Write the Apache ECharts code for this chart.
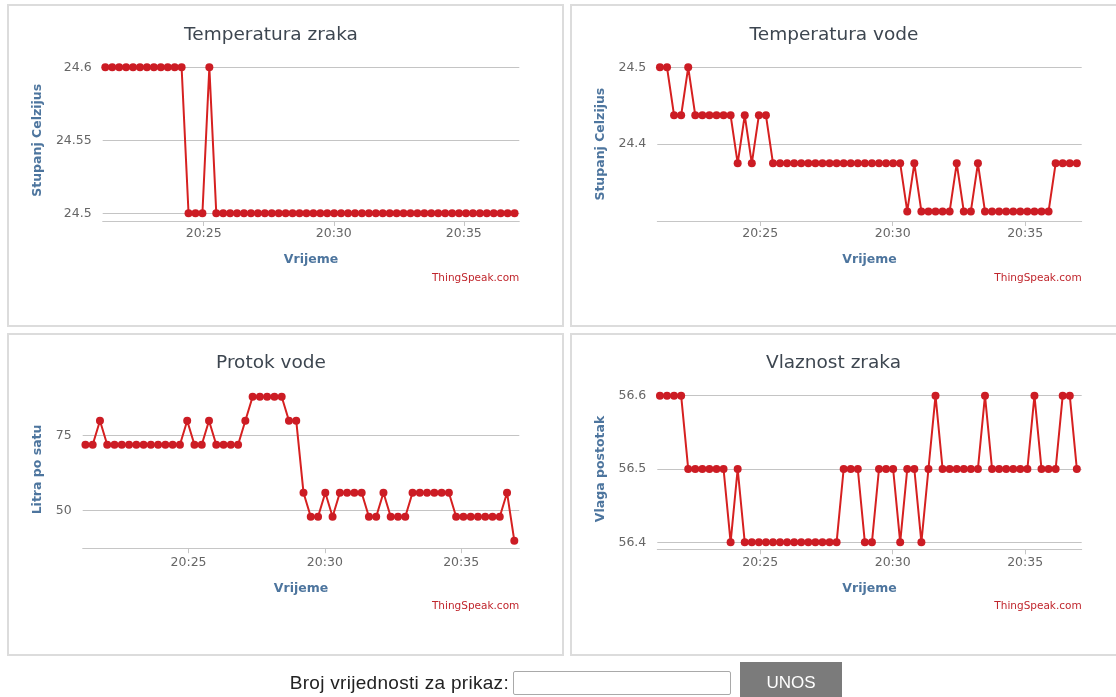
<!DOCTYPE html>
<html>
<head>
<meta charset="utf-8">
<script src="https://cdn.jsdelivr.net/npm/echarts@6/dist/echarts.min.js"></script>
<style>
html,body{margin:0;padding:0;background:#fff;width:1116px;height:697px;overflow:hidden;}
.panel{position:absolute;border:2px solid #dcdcdc;box-sizing:border-box;background:#fff;}
#chart{position:absolute;left:0;top:0;width:1116px;height:697px;}
#lbl{position:absolute;right:607px;top:672px;font:19px "Liberation Sans",Arial,sans-serif;letter-spacing:0.3px;color:#222;white-space:nowrap;line-height:22px;}
#inp{position:absolute;left:513px;top:671px;width:218px;height:24px;box-sizing:border-box;border:1px solid #a9a9a9;border-radius:2px;background:#fff;}
#btn{position:absolute;left:740px;top:662px;width:102px;height:42px;background:#7b7b7b;color:#fff;font:17px "Liberation Sans",Arial,sans-serif;text-align:center;line-height:42px;}
</style>
</head>
<body>
<div class="panel" style="left:7px;top:4px;width:557px;height:323px"></div>
<div class="panel" style="left:570px;top:4px;width:560px;height:323px"></div>
<div class="panel" style="left:7px;top:333px;width:557px;height:323px"></div>
<div class="panel" style="left:570px;top:333px;width:560px;height:323px"></div>
<div id="chart"></div>
<span id="lbl">Broj vrijednosti za prikaz:</span>
<div id="inp"></div>
<div id="btn">UNOS</div>
<script>
// ---- data ----
const times = [
 "20:21:13","20:21:29","20:21:45","20:22:01","20:22:17","20:22:33","20:22:49","20:23:05","20:23:21","20:23:37",
 "20:23:53","20:24:09","20:24:25","20:24:41","20:24:57","20:25:13","20:25:29","20:25:45","20:26:01","20:26:17",
 "20:26:33","20:26:49","20:27:05","20:27:21","20:27:37","20:27:53","20:28:09","20:28:25","20:28:41","20:28:57",
 "20:29:13","20:29:29","20:29:45","20:30:01","20:30:17","20:30:33","20:30:49","20:31:05","20:31:21","20:31:37",
 "20:31:53","20:32:09","20:32:25","20:32:41","20:32:57","20:33:13","20:33:29","20:33:45","20:34:01","20:34:17",
 "20:34:33","20:34:49","20:35:05","20:35:21","20:35:37","20:35:53","20:36:09","20:36:25","20:36:41","20:36:57"
];
const xRange = ["20:21:07", "20:37:08"];
const xTickLabels = ["20:25", "20:30", "20:35"];

const tempZraka = [
 24.6,24.6,24.6,24.6,24.6,24.6,24.6,24.6,24.6,24.6,
 24.6,24.6,24.5,24.5,24.5,24.6,24.5,24.5,24.5,24.5,
 24.5,24.5,24.5,24.5,24.5,24.5,24.5,24.5,24.5,24.5,
 24.5,24.5,24.5,24.5,24.5,24.5,24.5,24.5,24.5,24.5,
 24.5,24.5,24.5,24.5,24.5,24.5,24.5,24.5,24.5,24.5,
 24.5,24.5,24.5,24.5,24.5,24.5,24.5,24.5,24.5,24.5
];
const tempVode = [
 24.5,24.5,24.4375,24.4375,24.5,24.4375,24.4375,24.4375,24.4375,24.4375,
 24.4375,24.375,24.4375,24.375,24.4375,24.4375,24.375,24.375,24.375,24.375,
 24.375,24.375,24.375,24.375,24.375,24.375,24.375,24.375,24.375,24.375,
 24.375,24.375,24.375,24.375,24.375,24.3125,24.375,24.3125,24.3125,24.3125,
 24.3125,24.3125,24.375,24.3125,24.3125,24.375,24.3125,24.3125,24.3125,24.3125,
 24.3125,24.3125,24.3125,24.3125,24.3125,24.3125,24.375,24.375,24.375,24.375
];
const protok = [
 72,72,80,72,72,72,72,72,72,72,
 72,72,72,72,80,72,72,80,72,72,
 72,72,80,88,88,88,88,88,80,80,
 56,48,48,56,48,56,56,56,56,48,
 48,56,48,48,48,56,56,56,56,56,
 56,48,48,48,48,48,48,48,56,40
];
const vlaznost = [
 56.6,56.6,56.6,56.6,56.5,56.5,56.5,56.5,56.5,56.5,
 56.4,56.5,56.4,56.4,56.4,56.4,56.4,56.4,56.4,56.4,
 56.4,56.4,56.4,56.4,56.4,56.4,56.5,56.5,56.5,56.4,
 56.4,56.5,56.5,56.5,56.4,56.5,56.5,56.4,56.5,56.6,
 56.5,56.5,56.5,56.5,56.5,56.5,56.6,56.5,56.5,56.5,
 56.5,56.5,56.5,56.6,56.5,56.5,56.5,56.6,56.6,56.5
];
const titles = ["Temperatura zraka", "Temperatura vode", "Protok vode", "Vlaznost zraka"];
const yNames = ["Stupanj Celzijus", "Stupanj Celzijus", "Litra po satu", "Vlaga postotak"];
const xName = "Vrijeme";
const credit = "ThingSpeak.com";

// ---- helpers ----
function toSec(t){ const p = t.split(":").map(Number); return p[0]*3600 + p[1]*60 + (p[2]||0); }
function fmtTime(v){ const h = Math.floor(v/3600), m = Math.round((v - h*3600)/60); return h + ":" + (m<10?"0":"") + m; }
const xTicks = xTickLabels.map(toSec);
const FONT = '"DejaVu Sans", Verdana, sans-serif';
const RED = '#d62020';
const DOT = '#cc1c24';
const GRID_C = '#c4c4c4';
const AXIS_C = '#c6c6c6';
const NAME_C = '#4d759e';

const grids = [
 {left:102.7, top:67.3, width:416.6, height:146},
 {left:657.3, top:67.3, width:424.4, height:153.7},
 {left:82.7, top:390.7, width:436.6, height:157.5},
 {left:657.3, top:395.7, width:424.4, height:146.6}
];
const xOffsets = [7.7, 0, 0, 7];
const yNameGaps = [58, 50, 38, 50];
const xLabelMargins = [6, 6, 8, 7];
const xNameGaps = [32, 32, 34, 33];

function xAxisCfg(i){
  return {
    type:'value', gridIndex:i, min:toSec(xRange[0]), max:toSec(xRange[1]), offset:xOffsets[i],
    name:xName, nameLocation:'middle', nameGap:xNameGaps[i],
    nameTextStyle:{color:NAME_C, fontWeight:'bold', fontSize:12.5, fontFamily:FONT},
    axisLine:{show:true, onZero:false, lineStyle:{color:AXIS_C, width:1}},
    axisTick:{show:true, length:5, customValues:xTicks, lineStyle:{color:AXIS_C}},
    axisLabel:{customValues:xTicks, formatter:fmtTime, color:'#666', fontSize:12.5, fontFamily:FONT, margin:xLabelMargins[i]},
    splitLine:{show:false}
  };
}
function yAxisCfg(i, extra){
  return Object.assign({
    type:'value', gridIndex:i,
    name:yNames[i], nameLocation:'middle', nameGap:yNameGaps[i], nameRotate:90,
    nameTextStyle:{color:NAME_C, fontWeight:'bold', fontSize:12.5, fontFamily:FONT},
    axisLine:{show:false}, axisTick:{show:false},
    axisLabel:{color:'#666', fontSize:12.5, fontFamily:FONT, margin:11},
    splitLine:{show:true, lineStyle:{color:GRID_C, width:1}}
  }, extra);
}
const yAxes = [
  yAxisCfg(0, {min:24.5, max:24.6, interval:0.05}),
  yAxisCfg(1, {min:24.3, max:24.5, interval:0.1}),
  yAxisCfg(2, {min:37.5, max:90, interval:12.5}),
  yAxisCfg(3, {min:56.4, max:56.6, interval:0.1})
];
yAxes[1].axisLabel = Object.assign({}, yAxes[1].axisLabel, {showMinLabel:false});
yAxes[2].axisLabel = Object.assign({}, yAxes[2].axisLabel, {formatter: v => (v === 50 || v === 75) ? String(v) : ''});
const T = 'rgba(0,0,0,0)';
yAxes[2].splitLine = {show:true, lineStyle:{color:[T, GRID_C, T, GRID_C, T, T], width:1}};

const seriesData = [tempZraka, tempVode, protok, vlaznost];
const series = seriesData.map((vals, i) => ({
  type:'line', xAxisIndex:i, yAxisIndex:i,
  data: times.map((t, k) => [toSec(t), vals[k]]),
  symbol:'circle', symbolSize:8, showSymbol:true, clip:false,
  lineStyle:{color:RED, width:2}, itemStyle:{color:DOT},
  emphasis:{disabled:true}
}));

const titlePos = [[271,35],[834,35],[271,363],[833.5,363]];
const graphics = [];
titles.forEach((t, i) => {
  graphics.push({type:'text', x:titlePos[i][0], y:titlePos[i][1], silent:true,
    style:{text:t, font:'18.5px ' + FONT, fill:'#3d4650', align:'center', verticalAlign:'middle', textAlign:'center', textVerticalAlign:'middle'}});
  const g = grids[i];
  graphics.push({type:'text', x:g.left + g.width, y:(i<2?278:606), silent:true,
    style:{text:credit, font:'10.5px ' + FONT, fill:'#c0262d', align:'right', verticalAlign:'middle', textAlign:'right', textVerticalAlign:'middle'}});
});

const chart = echarts.init(document.getElementById('chart'), null, {renderer:'canvas'});
chart.setOption({
  animation:false,
  backgroundColor:'transparent',
  grid: grids.map(g => Object.assign({containLabel:false, outerBoundsMode:'none'}, g)),
  xAxis: [0,1,2,3].map(xAxisCfg),
  yAxis: yAxes,
  series: series,
  graphic: graphics
});
</script>
</body>
</html>
